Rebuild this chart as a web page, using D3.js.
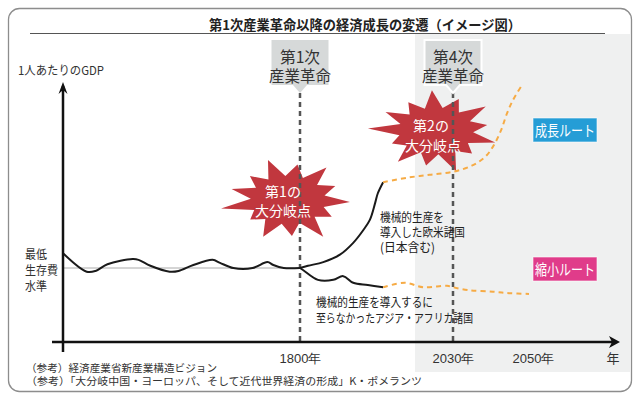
<!doctype html>
<html lang="ja">
<head>
  <meta charset="utf-8">
  <title>第1次産業革命以降の経済成長の変遷</title>
  <style>
    body { margin: 0; background: #fff; }
    svg { display: block; font-family: "Noto Sans CJK JP", "Noto Sans", sans-serif; }
    .note { fill: #222; }
    .axis-line { stroke: #111; stroke-width: 2.5; fill: none; }
  </style>
</head>
<body>
  <div id="chart"></div>
  <script src="https://cdn.jsdelivr.net/npm/d3@7"></script>
  <script>
// --- data ---
var preYears  = [1000, 1080, 1110, 1150, 1235, 1255, 1295, 1360, 1390, 1440, 1505, 1530, 1575, 1640, 1690, 1710, 1745, 1800];
var preGdp    = [120, 95, 96, 105, 112, 111, 103, 95, 96, 104, 111, 107, 100, 100, 108, 104, 100, 100];
var riseYears = [1800, 1812, 1835, 1860, 1880, 1895, 1905, 1913, 1917, 1925];
var riseGdp   = [100, 103, 108, 118, 134, 151, 165, 188, 201, 216];
var growYears = [1925, 1961, 1995, 2030, 2035, 2038, 2040, 2042, 2043.5, 2045, 2047];
var growGdp   = [216, 222, 226, 230, 239, 250, 264, 286, 309, 327, 345];
var fallYears = [1800, 1805, 1827, 1850, 1865, 1880, 1902, 1925];
var fallGdp   = [100, 97, 84, 84, 89, 80, 77, 74];
var shrinkYears = [1925, 1958, 1985, 2021, 2030, 2034, 2040, 2044, 2049];
var shrinkGdp   = [74, 80, 74, 76, 74, 70, 68, 66, 65];

var tickYears  = [1800, 2030, 2050];
var tickLabels = ["1800年", "2030年", "2050年"];
var subsistence = 100;

var revolutionYears  = [1800, 2030];
var revolutionLabels = [["第1次", "産業革命"], ["第4次", "産業革命"]];

(function() {
  var width = 640, height = 399;

  var svg = d3.select("#chart").append("svg")
      .attr("width", width)
      .attr("height", height);

  // piecewise time axis: the picture squeezes the pre-industrial centuries
  var x = d3.scaleLinear()
      .domain([1000, 1800, 2030, 2050, 2070])
      .range([63, 300, 453, 533, 613]);
  var y = d3.scaleLinear()
      .domain([0, 100])
      .range([342, 268]);

  var line = d3.line()
      .x(function(d) { return x(d[0]); })
      .y(function(d) { return y(d[1]); })
      .curve(d3.curveCatmullRom.alpha(0.5));

  var zip = function(a, b) { return a.map(function(v, i) { return [v, b[i]]; }); };

  // frame
  svg.append("rect")
      .attr("x", 8.5).attr("y", 8.5)
      .attr("width", 623).attr("height", 383)
      .attr("rx", 11)
      .attr("fill", "#fff")
      .attr("stroke", "#8d8d8d")
      .attr("stroke-width", 1.3);

  // future zone
  svg.append("rect")
      .attr("x", 415).attr("y", 34)
      .attr("width", 215).attr("height", 338)
      .attr("fill", "#eff0f0");

  // title
  svg.append("text")
      .attr("x", 365).attr("y", 30)
      .attr("text-anchor", "middle")
      .attr("font-size", 13.5)
      .attr("font-weight", "bold")
      .attr("fill", "#222")
      .attr("textLength", 312)
      .attr("lengthAdjust", "spacingAndGlyphs")
      .text("第1次産業革命以降の経済成長の変遷（イメージ図）");
  svg.append("line")
      .attr("x1", 30).attr("x2", 605)
      .attr("y1", 33.5).attr("y2", 33.5)
      .attr("stroke", "#555").attr("stroke-width", 1);

  // starburst helper (spike lengths are shape only)
  var spikes = [1, 0.82, 1.08, 0.9, 1.0, 0.78, 1.1, 0.95, 0.86, 1.05, 0.9, 1.02, 0.84];
  var burst = function(cx, cy, rx, ry, rot) {
    var n = spikes.length, pts = [];
    for (var i = 0; i < n * 2; i++) {
      var a = rot + i * Math.PI / n;
      var r = i % 2 === 0 ? spikes[i / 2] : 0.6;
      pts.push([cx + Math.cos(a) * rx * r, cy + Math.sin(a) * ry * r]);
    }
    return "M" + pts.join("L") + "Z";
  };

  svg.append("path")
      .attr("d", burst(288, 200, 62, 40, 0.05))
      .attr("fill", "#c1373e");
  svg.append("path")
      .attr("d", burst(436, 131, 62, 39, 0.3))
      .attr("fill", "#c1373e");

  // dashed revolution markers
  revolutionYears.forEach(function(yr, i) {
    var cx = x(yr);
    svg.append("line")
        .attr("x1", cx).attr("x2", cx)
        .attr("y1", 93).attr("y2", y(0))
        .attr("stroke", "#555")
        .attr("stroke-width", 2.5)
        .attr("stroke-dasharray", "5,4");
    svg.append("path")
        .attr("d", "M" + (cx - 28.5) + ",40H" + (cx + 28.5) + "V85H" + (cx + 7) + "L" + cx + ",93L" + (cx - 7) + ",85H" + (cx - 28.5) + "Z")
        .attr("fill", "#d6d9d9")
        .attr("stroke", i === 1 ? "#fff" : "none")
        .attr("stroke-width", 2);
    revolutionLabels[i].forEach(function(t, j) {
      svg.append("text")
          .attr("x", cx).attr("y", 63 + j * 18.5)
          .attr("text-anchor", "middle")
          .attr("font-size", 16)
          .attr("fill", "#333")
          .attr("textLength", j === 0 ? 40 : 62)
          .attr("lengthAdjust", "spacingAndGlyphs")
          .text(t);
    });
  });

  // burst captions
  [[283, 197, "第1の"], [283, 216, "大分岐点"], [431, 131, "第2の"], [433, 151, "大分岐点"]].forEach(function(d) {
    svg.append("text")
        .attr("x", d[0]).attr("y", d[1])
        .attr("text-anchor", "middle")
        .attr("font-size", 14)
        .attr("fill", "#fff")
        .text(d[2]);
  });

  // subsistence level
  svg.append("line")
      .attr("x1", x(1000)).attr("x2", x(1800))
      .attr("y1", y(subsistence)).attr("y2", y(subsistence))
      .attr("stroke", "#aaa").attr("stroke-width", 1);

  // series
  svg.append("path").datum(zip(preYears, preGdp))
      .attr("d", line).attr("fill", "none").attr("stroke", "#1a1a1a").attr("stroke-width", 2);
  svg.append("path").datum(zip(riseYears, riseGdp))
      .attr("d", line).attr("fill", "none").attr("stroke", "#1a1a1a").attr("stroke-width", 2);
  svg.append("path").datum(zip(fallYears, fallGdp))
      .attr("d", line).attr("fill", "none").attr("stroke", "#1a1a1a").attr("stroke-width", 2);
  svg.append("path").datum(zip(growYears, growGdp))
      .attr("d", line).attr("fill", "none").attr("stroke", "#f6ab45").attr("stroke-width", 2)
      .attr("stroke-dasharray", "5,4");
  svg.append("path").datum(zip(shrinkYears, shrinkGdp))
      .attr("d", line).attr("fill", "none").attr("stroke", "#f6ab45").attr("stroke-width", 2)
      .attr("stroke-dasharray", "5,4");

  // axes
  svg.append("line").attr("class", "axis-line")
      .attr("x1", x(1000)).attr("x2", x(1000))
      .attr("y1", 86).attr("y2", 352);
  svg.append("path")
      .attr("d", "M" + (x(1000) - 4.5) + ",94L" + x(1000) + ",82L" + (x(1000) + 4.5) + ",94L" + x(1000) + ",90Z")
      .attr("fill", "#111");
  svg.append("line").attr("class", "axis-line")
      .attr("x1", 52).attr("x2", 615)
      .attr("y1", y(0)).attr("y2", y(0));
  svg.append("path")
      .attr("d", "M609," + (y(0) - 6) + "L620," + y(0) + "L609," + (y(0) + 6) + "L612," + y(0) + "Z")
      .attr("fill", "#111");

  var ax = d3.axisBottom(x)
      .tickValues(tickYears)
      .tickSize(0)
      .tickFormat(function(d, i) { return tickLabels[i]; });
  var gx = svg.append("g")
      .attr("transform", "translate(0," + (y(0) + 9) + ")")
      .attr("font-family", "'Noto Sans CJK JP', sans-serif")
      .call(ax);
  gx.select(".domain").remove();
  gx.selectAll("text")
      .attr("font-size", 13)
      .attr("fill", "#333");
  svg.append("text")
      .attr("x", 613).attr("y", 363)
      .attr("text-anchor", "middle")
      .attr("font-size", 13)
      .attr("fill", "#333")
      .text("年");

  // axis captions
  svg.append("text")
      .attr("x", 18).attr("y", 75)
      .attr("font-size", 12)
      .attr("fill", "#333")
      .attr("textLength", 86)
      .attr("lengthAdjust", "spacingAndGlyphs")
      .text("1人あたりのGDP");
  ["最低", "生存費", "水準"].forEach(function(t, i) {
    svg.append("text")
        .attr("x", 25).attr("y", 259 + i * 16)
        .attr("font-size", 12.5)
        .attr("fill", "#333")
        .attr("textLength", i === 1 ? 33 : 22)
        .attr("lengthAdjust", "spacingAndGlyphs")
        .text(t);
  });

  // group annotations
  var upper = ["機械的生産を", "導入した欧米諸国", "(日本含む)"];
  var upperLen = [64, 85, 55];
  upper.forEach(function(t, i) {
    svg.append("text").attr("class", "note")
        .attr("x", 380).attr("y", 222 + i * 15)
        .attr("font-size", 12.5)
        .attr("textLength", upperLen[i])
        .attr("lengthAdjust", "spacingAndGlyphs")
        .text(t);
  });
  var lower = ["機械的生産を導入するに", "至らなかったアジア・アフリカ諸国"];
  var lowerLen = [117, 157];
  lower.forEach(function(t, i) {
    svg.append("text").attr("class", "note")
        .attr("x", 316).attr("y", 307 + i * 16)
        .attr("font-size", 12.5)
        .attr("textLength", lowerLen[i])
        .attr("lengthAdjust", "spacingAndGlyphs")
        .text(t);
  });

  // route tags
  [["成長ルート", 118, "#259dd6"], ["縮小ルート", 257, "#e03c8a"]].forEach(function(d) {
    svg.append("rect")
        .attr("x", 533).attr("y", d[1])
        .attr("width", 64).attr("height", 24)
        .attr("fill", d[2])
        .attr("stroke", "#fff").attr("stroke-opacity", 0.6);
    svg.append("text")
        .attr("x", 565).attr("y", d[1] + 17.5)
        .attr("text-anchor", "middle")
        .attr("font-size", 15)
        .attr("fill", "#fff")
        .attr("textLength", 60)
        .attr("lengthAdjust", "spacingAndGlyphs")
        .text(d[0]);
  });

  // sources
  svg.append("text")
      .attr("x", 26).attr("y", 372)
      .attr("font-size", 10.5).attr("fill", "#333")
      .attr("textLength", 191)
      .attr("lengthAdjust", "spacingAndGlyphs")
      .text("（参考）経済産業省新産業構造ビジョン");
  svg.append("text")
      .attr("x", 26).attr("y", 385)
      .attr("font-size", 10.5).attr("fill", "#333")
      .attr("textLength", 396)
      .attr("lengthAdjust", "spacingAndGlyphs")
      .text("（参考）「大分岐中国・ヨーロッパ、そして近代世界経済の形成」K・ポメランツ");
})();
  </script>
</body>
</html>
